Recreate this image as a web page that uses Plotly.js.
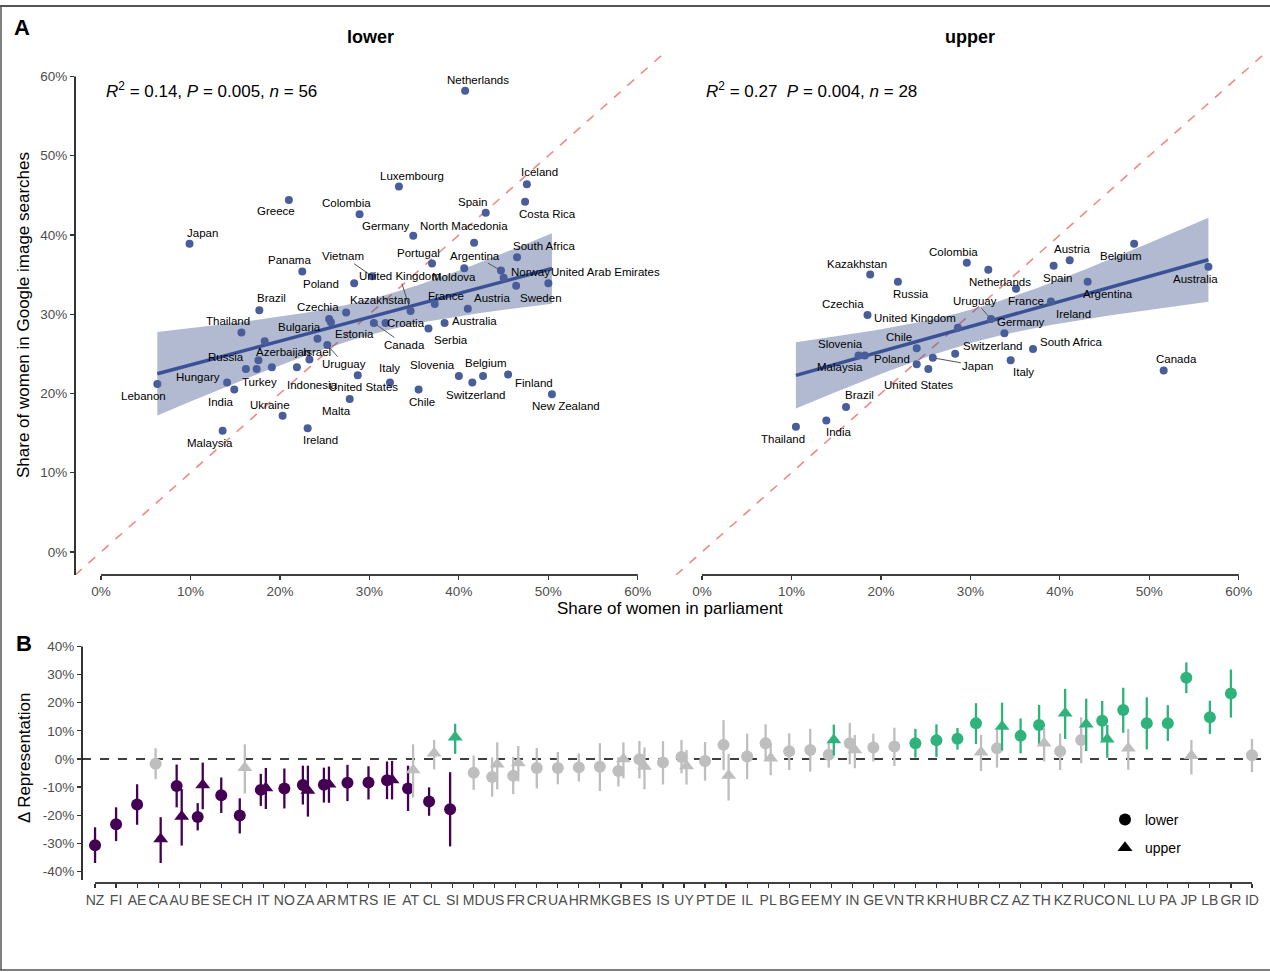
<!DOCTYPE html>
<html><head><meta charset="utf-8">
<script src="https://cdn.plot.ly/plotly-3.0.1.min.js"></script>
<style>html,body{margin:0;padding:0;background:#fff}#chart{width:1270px;height:972px}</style>
</head><body><div id="chart"></div>
<script>
// ---------- Panel A: lower chamber ----------
const lowerCountries = ["Netherlands","Luxembourg","Iceland","Costa Rica","Spain","Greece","Colombia","Germany","North Macedonia","Japan","South Africa","Portugal","Argentina","Panama","Vietnam","United Kingdom","Moldova","Norway","United Arab Emirates","Poland","Brazil","Kazakhstan","France","Austria","Sweden","Czechia","Thailand","Bulgaria","Estonia","Croatia","Australia","Canada","Serbia","Russia","Azerbaijan","Israel","Uruguay","Italy","Slovenia","Belgium","Hungary","Turkey","Indonesia","United States","Finland","Chile","Switzerland","Lebanon","India","Ukraine","Malta","New Zealand","Malaysia","Ireland","South Korea","Georgia"];
const lowerParliament = [40.7,33.3,47.6,47.4,43.0,21.0,28.9,34.9,41.7,9.9,46.5,37.0,44.7,22.5,30.3,34.6,40.6,45.0,50.0,28.3,17.7,27.4,37.3,41.0,46.4,25.5,15.7,24.2,25.7,31.8,38.4,30.5,36.6,16.2,18.3,23.3,25.3,32.3,40.0,42.7,14.1,17.4,21.9,28.7,45.5,35.5,41.5,6.3,14.9,20.3,27.8,50.4,13.6,23.1,17.6,19.1];
const lowerSearches = [58.2,46.1,46.4,44.2,42.8,44.4,42.6,39.9,39.0,38.9,37.2,36.4,35.5,35.4,34.8,30.4,35.8,34.6,33.9,33.9,30.5,30.2,31.3,30.7,33.6,29.4,27.7,26.9,29.0,28.9,28.9,28.9,28.2,23.1,26.6,24.3,26.1,21.4,22.2,22.2,21.4,23.1,23.3,22.3,22.4,20.5,21.4,21.2,20.5,17.2,19.3,19.9,15.3,15.6,24.2,23.3];

// ---------- Panel A: upper chamber ----------
const upperCountries = ["Colombia","Netherlands","Kazakhstan","Russia","Czechia","United Kingdom","Uruguay","Chile","Slovenia","Malaysia","Poland","Japan","United States","Switzerland","Italy","Germany","France","Ireland","Austria","Belgium","Spain","Australia","Argentina","South Africa","Canada","Brazil","India","Thailand"];
const upperParliament = [29.6,32.0,18.8,21.9,18.5,28.6,32.3,24.0,17.5,18.2,24.0,25.8,25.3,28.3,34.5,33.8,35.1,39.0,41.1,48.3,39.3,56.6,43.1,37.0,51.6,16.1,13.9,10.5];
const upperSearches = [36.5,35.6,35.0,34.1,29.9,28.3,29.4,25.7,24.8,24.8,23.7,24.5,23.1,25.0,24.2,27.6,33.2,31.6,36.8,38.9,36.1,36.0,34.1,25.6,22.9,18.3,16.6,15.8];

const statLower = "<i>R</i><sup>2</sup> = 0.14, <i>P</i> = 0.005, <i>n</i> = 56";
const statUpper = "<i>R</i><sup>2</sup> = 0.27  <i>P</i> = 0.004, <i>n</i> = 28";

const pctTicks = [0,10,20,30,40,50,60];
const pctTickLabels = ["0%","10%","20%","30%","40%","50%","60%"];

// ---------- Panel B ----------
const codes = ["NZ","FI","AE","CA","AU","BE","SE","CH","IT","NO","ZA","AR","MT","RS","IE","AT","CL","SI","MD","US","FR","CR","UA","HR","MK","GB","ES","IS","UY","PT","DE","IL","PL","BG","EE","MY","IN","GE","VN","TR","KR","HU","BR","CZ","AZ","TH","KZ","RU","CO","NL","LU","PA","JP","LB","GR","ID"];
const lowerDelta = [-30.7,-23.2,-16.2,-1.7,-9.6,-20.6,-12.9,-20.1,-11.0,-10.5,-9.3,-9.2,-8.5,-8.4,-7.6,-10.5,-15.1,-17.9,-4.9,-6.4,-6.0,-3.2,-3.2,-3.0,-2.8,-4.3,-0.1,-1.3,0.7,-0.7,5.0,0.9,5.6,2.7,3.2,1.5,5.6,4.1,4.4,5.6,6.6,7.2,12.7,3.8,8.2,12.1,2.7,6.7,13.6,17.4,12.7,12.7,28.9,14.8,23.3,1.3];
const lowerLow = [-37.0,-29.2,-23.4,-7.2,-17.2,-25.4,-19.2,-26.5,-16.7,-17.6,-16.2,-15.5,-15.0,-14.4,-14.3,-18.5,-20.2,-31.1,-11.0,-13.4,-12.5,-10.5,-9.0,-8.0,-11.4,-9.8,-6.9,-9.1,-5.1,-7.7,-3.9,-7.2,-0.7,-3.9,-4.5,-3.1,-1.9,-0.9,-2.5,0.5,0.7,3.3,5.3,-3.1,2.0,5.0,-3.9,-1.5,6.7,9.3,3.4,6.4,23.4,8.9,14.7,-4.7];
const lowerHigh = [-24.3,-17.2,-9.0,3.8,-2.0,-15.7,-6.6,-14.0,-5.3,-3.4,-2.4,-3.1,-2.1,-2.6,-0.9,-2.4,-10.1,-4.7,1.2,0.5,0.8,3.9,2.5,1.9,5.6,0.6,6.4,6.3,6.7,6.0,13.8,9.0,12.3,9.1,10.7,5.6,12.8,9.0,11.1,10.7,12.3,11.0,19.8,10.3,14.4,19.2,9.0,14.8,20.6,25.3,21.9,19.1,34.3,20.7,31.8,7.1];
const upperDelta = [null,null,null,-28.5,-20.5,-9.3,null,-3.1,-10.3,null,-11.2,-9.0,null,null,-7.5,-3.9,2.0,7.7,null,-1.9,-1.4,null,null,null,null,0.0,-2.7,null,-2.5,null,-5.9,null,0.2,null,null,6.7,3.2,null,null,null,null,null,2.4,11.5,null,5.6,16.2,12.3,7.0,3.8,null,null,1.1,null,null,null];
const upperLow = [null,null,null,-37.0,-30.8,-17.9,null,-12.3,-17.8,null,-20.5,-15.6,null,null,-14.4,-13.7,-3.7,1.8,null,-10.8,-8.0,null,null,null,null,-6.9,-10.8,null,-9.1,null,-14.8,null,-5.8,null,null,1.3,-3.3,null,null,null,null,null,-4.3,3.0,null,-0.9,7.1,2.8,0.4,-3.9,null,null,-5.5,null,null,null];
const upperHigh = [null,null,null,-20.7,-10.7,-1.3,null,5.2,-3.2,null,-2.4,-2.7,null,null,-0.7,5.2,6.7,12.5,null,5.9,4.6,null,null,null,null,5.9,4.1,null,3.2,null,1.8,null,5.6,null,null,12.2,8.5,null,null,null,null,null,8.6,20.0,null,11.2,24.9,21.4,12.1,10.7,null,null,6.7,null,null,null];
const deltaTicks = [-40,-30,-20,-10,0,10,20,30,40];
const deltaTickLabels = ["-40%","-30%","-20%","-10%","0%","10%","20%","30%","40%"];

// ---------- label placement (pixel offsets, style only) ----------
const lowerLabelOffsets = {
 "Netherlands":[13,-11],"Luxembourg":[13,-11],"Iceland":[13,-12],"Costa Rica":[22,12],"Spain":[-13,-11],
 "Greece":[-13,11],"Colombia":[-13,-11],"Germany":[-27,-10],"North Macedonia":[-10,-17],"Japan":[13,-11],
 "South Africa":[27,-11],"Portugal":[-14,-10],"Argentina":[-26,-15,1],"Panama":[-13,-11],"Vietnam":[-29,-20,1],
 "United Kingdom":[-11,-35,1],"Moldova":[-10,9],"Norway":[27,-6],"United Arab Emirates":[57,-11],"Poland":[-33,1],
 "Brazil":[12,-12],"Kazakhstan":[34,-13],"France":[11,-8],"Austria":[24,-11],"Sweden":[25,12],"Czechia":[-11,-12],
 "Thailand":[-13,-11],"Bulgaria":[-18,-12],"Estonia":[24,12],"Croatia":[20,0],"Australia":[30,-2],"Canada":[31,22,1],
 "Serbia":[23,12],"Russia":[-20,-12],"Azerbaijan":[18,11],"Israel":[8,-7],"Uruguay":[17,19,1],"Italy":[0,-14],
 "Slovenia":[-26,-11],"Belgium":[3,-13],"Hungary":[-29,-5],"Turkey":[3,13],"Indonesia":[15,18],"United States":[6,12],
 "Finland":[26,9],"Chile":[3,12],"Switzerland":[3,13],"Lebanon":[-14,12],"India":[-13,12],"Ukraine":[-13,-11],
 "Malta":[-13,12],"New Zealand":[14,12],"Malaysia":[-13,12],"Ireland":[13,12]
};
const upperLabelOffsets = {
 "Colombia":[-13,-11],"Netherlands":[12,12],"Kazakhstan":[-13,-11],"Russia":[13,12],"Czechia":[-24,-11],
 "United Kingdom":[-43,-10],"Uruguay":[-16,-18,1],"Chile":[-18,-11],"Slovenia":[-18,-11],"Malaysia":[-25,12],
 "Poland":[-25,-5],"Japan":[45,8,1],"United States":[-10,16],"Switzerland":[37,-8],"Italy":[13,12],"Germany":[17,-11],
 "France":[10,12],"Ireland":[23,12],"Austria":[2,-11],"Belgium":[-13,12],"Spain":[4,12],"Australia":[-13,12],
 "Argentina":[20,12],"South Africa":[38,-7],"Canada":[13,-11],"Brazil":[13,-12],"India":[13,12],"Thailand":[-13,12]
};

// ---------- helpers ----------
const W = 1270, H = 972;
const px = v => v / W;
const py = v => 1 - v / H;
const FONT = '"Liberation Sans", Arial, Helvetica, sans-serif';
const TICKGREY = '#4D4D4D';
const POINT = '#4A5D9B';
const FIT = '#3A5196';
const PURPLE = '#440154', GREEN = '#2EB37C', GREY = '#BEBEBE';
const pctRange = [-2.9, 62.7];

function fitBand(xs, ys, tcrit) {
  const n = xs.length;
  const mx = xs.reduce((a,b)=>a+b,0)/n, my = ys.reduce((a,b)=>a+b,0)/n;
  let sxx = 0, sxy = 0;
  for (let i=0;i<n;i++){ sxx += (xs[i]-mx)**2; sxy += (xs[i]-mx)*(ys[i]-my); }
  const b = sxy/sxx, a = my - b*mx;
  let sse = 0;
  for (let i=0;i<n;i++) sse += (ys[i]-a-b*xs[i])**2;
  const s = Math.sqrt(sse/(n-2));
  const xmin = Math.min(...xs), xmax = Math.max(...xs);
  const gx = [], gy = [], lo = [], hi = [];
  for (let k=0;k<80;k++){
    const x = xmin + (xmax-xmin)*k/79;
    const yh = a + b*x;
    const se = s*Math.sqrt(1/n + (x-mx)**2/sxx);
    gx.push(x); gy.push(yh); lo.push(yh - tcrit*se); hi.push(yh + tcrit*se);
  }
  return {gx, gy, lo, hi};
}

const traces = [];
function addScatterPanel(xs, ys, xa, tcrit) {
  const f = fitBand(xs, ys, tcrit);
  traces.push({x: f.gx.concat(f.gx.slice().reverse()), y: f.hi.concat(f.lo.slice().reverse()),
    xaxis: xa, yaxis: 'y', type: 'scatter', mode: 'lines', fill: 'toself',
    fillcolor: 'rgba(59,82,139,0.40)', line: {width: 0}, showlegend: false, hoverinfo: 'skip'});
  traces.push({x: f.gx, y: f.gy, xaxis: xa, yaxis: 'y', type: 'scatter', mode: 'lines',
    line: {color: FIT, width: 3.5}, showlegend: false, hoverinfo: 'skip'});
  traces.push({x: xs, y: ys, xaxis: xa, yaxis: 'y', type: 'scatter', mode: 'markers',
    marker: {color: POINT, size: 8}, showlegend: false, cliponaxis: false});
}
addScatterPanel(lowerParliament, lowerSearches, 'x', 2.005);
addScatterPanel(upperParliament, upperSearches, 'x2', 2.056);

// Panel B traces grouped by significance colour
function sigColor(lo, hi) { return hi < 0 ? PURPLE : (lo > 0 ? GREEN : GREY); }
function addDeltaTraces(delta, low, high, other, symbol, size, shift) {
  [PURPLE, GREY, GREEN].forEach(col => {
    const x = [], y = [], ep = [], em = [];
    delta.forEach((d, i) => {
      if (d === null) return;
      if (sigColor(low[i], high[i]) !== col) return;
      x.push(i + (other[i] === null ? 0 : shift));
      y.push(d); ep.push(high[i] - d); em.push(d - low[i]);
    });
    if (!x.length) return;
    traces.push({x, y, xaxis: 'x3', yaxis: 'y3', type: 'scatter', mode: 'markers',
      marker: {symbol, size, color: col},
      error_y: {type: 'data', symmetric: false, array: ep, arrayminus: em, color: col, thickness: 2.3, width: 0},
      showlegend: false, cliponaxis: false});
  });
}
addDeltaTraces(lowerDelta, lowerLow, lowerHigh, upperDelta, 'circle', 12, -0.12);
addDeltaTraces(upperDelta, upperLow, upperHigh, lowerDelta, 'triangle-up', 13, 0.12);
traces.push({x: [null], y: [null], xaxis: 'x3', yaxis: 'y3', type: 'scatter', mode: 'markers',
  name: 'lower', legendgroup: 'a', marker: {symbol: 'circle', size: 12, color: '#000'}});
traces.push({x: [null], y: [null], xaxis: 'x3', yaxis: 'y3', type: 'scatter', mode: 'markers',
  name: 'upper', legendgroup: 'b', marker: {symbol: 'triangle-up', size: 13, color: '#000'}});

// ---------- annotations ----------
const annotations = [];
function countryLabels(names, xs, ys, offsets, xref) {
  names.forEach((nm, i) => {
    const o = offsets[nm];
    if (!o) return;
    annotations.push({x: xs[i], y: ys[i], xref, yref: 'y', text: nm, showarrow: true,
      ax: o[0], ay: o[1], arrowhead: 0, arrowwidth: 1, standoff: 3,
      arrowcolor: o[2] ? '#555555' : 'rgba(0,0,0,0)',
      font: {size: 11.5, color: '#000', family: FONT}});
  });
}
countryLabels(lowerCountries, lowerParliament, lowerSearches, lowerLabelOffsets, 'x');
countryLabels(upperCountries, upperParliament, upperSearches, upperLabelOffsets, 'x2');

function paperText(text, x, y, size, opts) {
  annotations.push(Object.assign({text, x: px(x), y: py(y), xref: 'paper', yref: 'paper',
    showarrow: false, xanchor: 'center', yanchor: 'middle', font: {size, color: '#000', family: FONT}}, opts || {}));
}
paperText('<b>A</b>', 22, 28, 22);
paperText('<b>B</b>', 24, 643, 22);
paperText('<b>lower</b>', 370, 37, 18);
paperText('<b>upper</b>', 970, 37, 18);
paperText(statLower, 104, 90, 17, {xanchor: 'left'});
paperText(statUpper, 704, 90, 17, {xanchor: 'left'});
paperText('Share of women in parliament', 670, 608, 17);
paperText('Share of women in Google image searches', 23, 315, 17, {textangle: -90});
paperText('Δ Representation', 24, 758, 17, {textangle: -90});

// ---------- shapes ----------
const axLine = {color: '#000', width: 1.6};
const shapes = [
  {type: 'line', xref: 'x', yref: 'y', x0: pctRange[0], y0: pctRange[0], x1: pctRange[1], y1: pctRange[1],
   line: {color: '#F08A84', width: 1.6, dash: 'dash'}, layer: 'below'},
  {type: 'line', xref: 'x2', yref: 'y', x0: pctRange[0], y0: pctRange[0], x1: pctRange[1], y1: pctRange[1],
   line: {color: '#F08A84', width: 1.6, dash: 'dash'}, layer: 'below'},
  {type: 'line', xref: 'x', yref: 'y domain', x0: 0, x1: 60, y0: 0, y1: 0, line: axLine},
  {type: 'line', xref: 'x2', yref: 'y domain', x0: 0, x1: 60, y0: 0, y1: 0, line: axLine},
  {type: 'line', xref: 'x domain', yref: 'y', x0: 0, x1: 0, y0: pctRange[0], y1: 60, line: axLine},
  {type: 'line', xref: 'x3', yref: 'y3 domain', x0: 0, x1: codes.length - 1, y0: 0, y1: 0, line: axLine},
  {type: 'line', xref: 'x3 domain', yref: 'y3', x0: 0, x1: 0, y0: -43, y1: 40, line: axLine},
  {type: 'line', xref: 'x3 domain', yref: 'y3', x0: 0, x1: 1, y0: 0, y1: 0,
   line: {color: '#000', width: 1.6, dash: 'dash'}, layer: 'below'},
  {type: 'line', xref: 'paper', yref: 'paper', x0: 0, x1: 1, y0: py(6), y1: py(6), line: {color: '#555', width: 2}},
  {type: 'line', xref: 'paper', yref: 'paper', x0: px(1), x1: px(1), y0: py(6), y1: py(970), line: {color: '#555', width: 1.5}},
  {type: 'line', xref: 'paper', yref: 'paper', x0: 0, x1: 1, y0: py(970), y1: py(970), line: {color: '#555', width: 1.5}}
];

const baseAxis = {showgrid: false, zeroline: false, showline: false, ticks: 'outside', ticklen: 4,
  tickwidth: 1.2, tickcolor: '#333', tickangle: 0, tickfont: {size: 13.5, color: TICKGREY, family: FONT}, fixedrange: true};

const layout = {
  width: W, height: H, margin: {l: 0, r: 0, t: 0, b: 0},
  paper_bgcolor: '#fff', plot_bgcolor: 'rgba(0,0,0,0)',
  font: {family: FONT, color: '#000'},
  showlegend: true,
  legend: {x: px(1105), y: py(804), xanchor: 'left', yanchor: 'top', font: {size: 14, family: FONT},
           tracegroupgap: 7, bgcolor: 'rgba(0,0,0,0)'},
  xaxis: Object.assign({}, baseAxis, {domain: [px(75), px(662)], range: pctRange, anchor: 'y',
           tickvals: pctTicks, ticktext: pctTickLabels}),
  xaxis2: Object.assign({}, baseAxis, {domain: [px(676), px(1263)], range: pctRange, anchor: 'y',
           tickvals: pctTicks, ticktext: pctTickLabels}),
  yaxis: Object.assign({}, baseAxis, {domain: [py(575), py(55)], range: pctRange, anchor: 'x',
           tickvals: pctTicks, ticktext: pctTickLabels}),
  xaxis3: Object.assign({}, baseAxis, {domain: [px(82), px(1265)], range: [-0.62, 55.62], anchor: 'y3',
           tickvals: codes.map((c, i) => i), ticktext: codes, tickangle: 0, tickfont: {size: 14, color: TICKGREY, family: FONT}}),
  yaxis3: Object.assign({}, baseAxis, {domain: [py(883), py(636)], range: [-44.1, 43.7], anchor: 'x3',
           tickvals: deltaTicks, ticktext: deltaTickLabels}),
  annotations, shapes
};

Plotly.newPlot('chart', traces, layout, {displayModeBar: false, staticPlot: true});
</script>
</body></html>
